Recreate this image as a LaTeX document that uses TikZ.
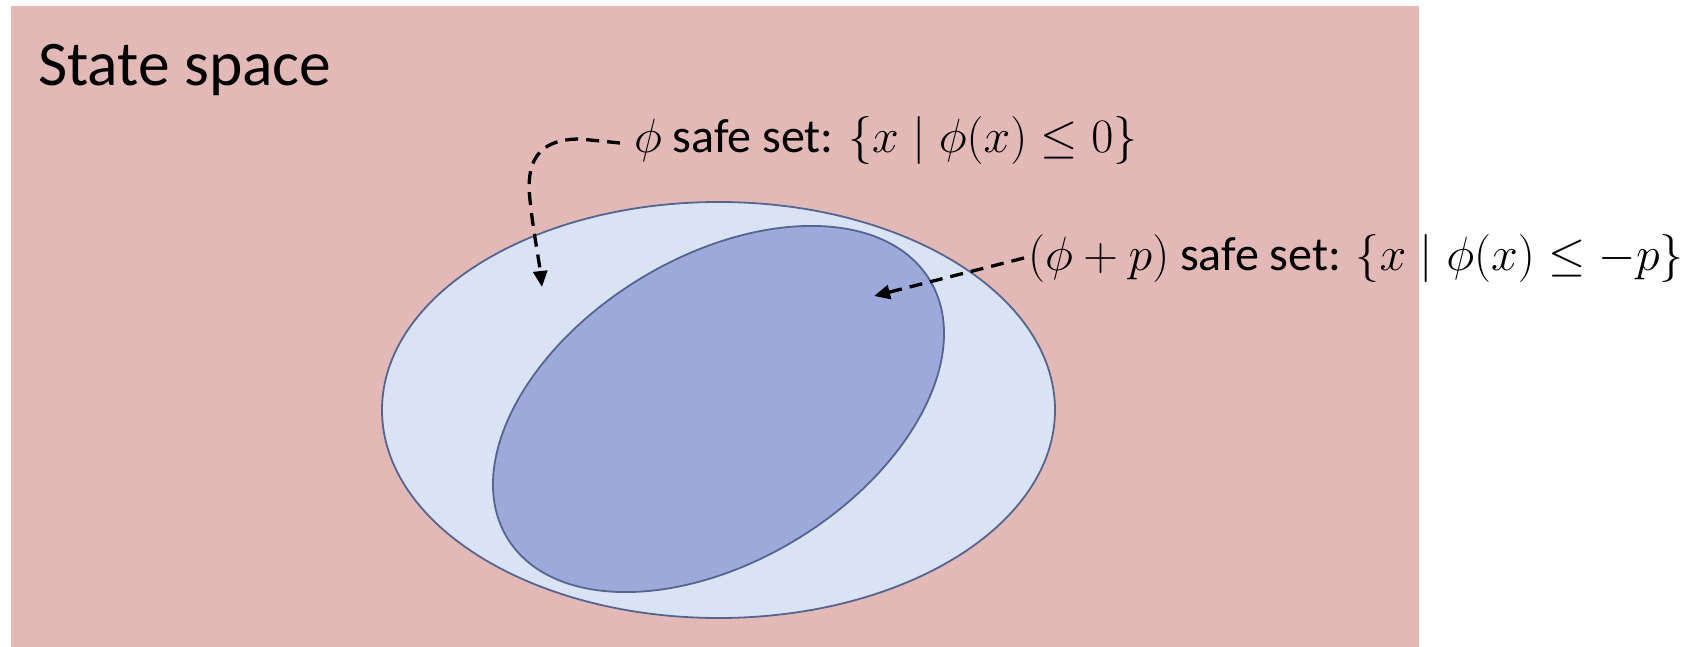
\RequirePackage{fix-cm}
\documentclass[tikz,border=0pt]{standalone}
\usepackage{fontspec}
\setmainfont{Carlito}
\usetikzlibrary{shapes.geometric,arrows.meta}
\definecolor{bgpink}{HTML}{E2B9B7}
\definecolor{outerfill}{HTML}{DAE3F3}
\definecolor{innerfill}{HTML}{9DA9DA}
\definecolor{setline}{HTML}{56658F}
\tikzset{
  setshape/.style={ellipse, draw=setline, line width=1.8pt, inner sep=0pt, outer sep=0pt},
  labeltext/.style={inner sep=0pt, outer sep=0pt, font=\fontsize{48}{56}\selectfont},
  pointer/.style={draw=black, line width=3.3pt, dash pattern=on 13pt off 8pt, -{Triangle[length=16pt,width=14pt]}}
}
\begin{document}
\begin{tikzpicture}[x=1pt,y=-1pt]
\useasboundingbox (0,0) rectangle (1706,647);
\fill[bgpink] (11,6) rectangle (1419,647);
\node[anchor=base west, inner sep=0pt, font=\fontsize{63.5}{72}\selectfont] (title) at (38,86) {State space};
\node[setshape, fill=outerfill, minimum width=673pt, minimum height=416pt] (outer) at (718.5,410) {};
\node[setshape, fill=innerfill, minimum width=495pt, minimum height=304pt, rotate=31.5] (inner) at (718.5,409) {};
\node[labeltext, anchor=base west] (lab1) at (634,153) {$\phi$ safe set: $\{x \mid \phi(x) \leq 0\}$};
\node[labeltext, anchor=base west] (lab2) at (1028,270) {$(\phi + p)$ safe set: $\{x \mid \phi(x) \leq -p\}$};
\coordinate (tip1) at (542,287);
\coordinate (tip2) at (874,296);
\draw[pointer] ([xshift=-14pt,yshift=-2pt]lab1.west) -- (580,139) .. controls (535,139) and (526,165) .. (530,200) .. controls (533,230) and (539,260) .. (tip1);
\draw[pointer] ([xshift=-4pt]lab2.west) -- (tip2);
\end{tikzpicture}
\end{document}
